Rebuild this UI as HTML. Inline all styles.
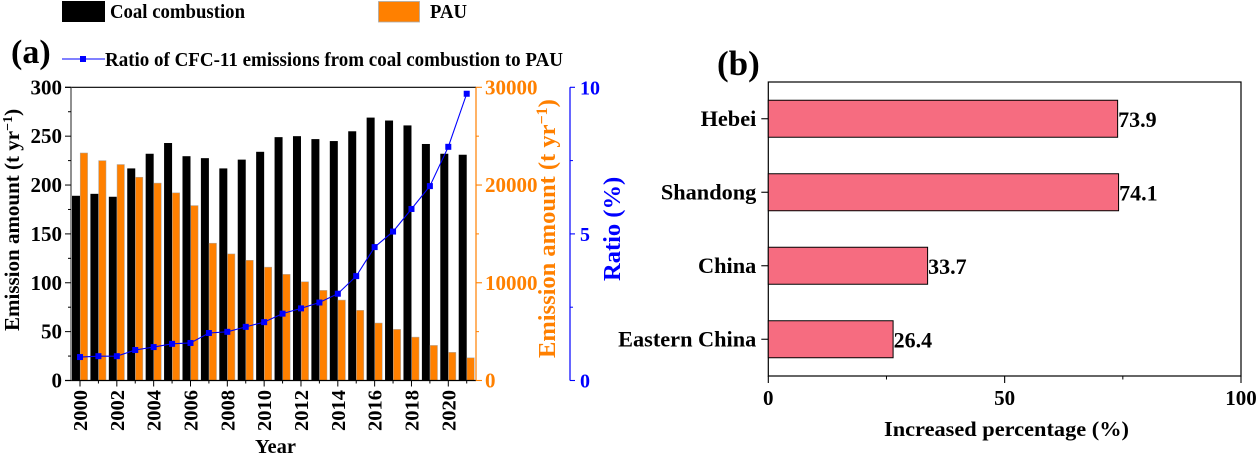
<!DOCTYPE html>
<html lang="en">
<head>
<meta charset="utf-8">
<title>CFC-11 emissions from coal combustion and PAU</title>
<style>
html,body{margin:0;padding:0;background:#fff;width:1258px;height:455px;overflow:hidden}
svg{display:block;font-family:"Liberation Serif",serif;font-weight:bold}
</style>
</head>
<body>
<svg id="chart" width="1258" height="455" viewBox="0 0 1258 455" xmlns="http://www.w3.org/2000/svg">
  <g>
    <rect x="62" y="1" width="43" height="21" fill="#000"/>
    <text x="110" y="18" font-size="20" textLength="135" lengthAdjust="spacingAndGlyphs">Coal combustion</text>
    <rect x="378.5" y="1.5" width="41" height="20.5" fill="#FF8000" stroke="#aaa" stroke-width="0.8"/>
    <text x="430" y="18" font-size="20" textLength="37" lengthAdjust="spacingAndGlyphs">PAU</text>
    <line x1="62" x2="105" y1="59" y2="59" stroke="#0000FF" stroke-width="1"/>
    <rect x="80" y="56" width="6" height="6" fill="#0000FF"/>
    <text x="105" y="66" font-size="20" textLength="458" lengthAdjust="spacingAndGlyphs">Ratio of CFC-11 emissions from coal combustion to PAU</text>
  </g>
  <text x="11" y="63" font-size="34">(a)</text>
  <text x="717" y="75" font-size="35">(b)</text>

  <g id="panelA"></g>
  <g id="panelB"></g>

  <text transform="translate(19,331) rotate(-90)" font-size="21" fill="#000">Emission amount (t yr<tspan font-size="14" dy="-7">−1</tspan><tspan dy="7">)</tspan></text>
  <text transform="translate(555,358) rotate(-90)" font-size="24.5" fill="#FF8000">Emission amount (t yr<tspan font-size="16" dy="-8">−1</tspan><tspan dy="8">)</tspan></text>
  <text transform="translate(620,281) rotate(-90)" font-size="24.5" fill="#0000FF">Ratio (%)</text>
  <text x="255" y="453" font-size="20.5">Year</text>
  <text x="884" y="436" font-size="21.5" textLength="245" lengthAdjust="spacingAndGlyphs">Increased percentage (%)</text>
</svg>

<script>
const years = [2000,2001,2002,2003,2004,2005,2006,2007,2008,2009,2010,2011,2012,2013,2014,2015,2016,2017,2018,2019,2020,2021];
const coalValues = [189,191,188,217,232,243,229.5,227.5,217,226,234,249,250,247,245,255,269,266,261,242,232,231];
const pauValues = [23280,22500,22100,20800,20200,19200,17900,14050,12950,12300,11600,10860,10100,9220,8230,7180,5880,5230,4440,3590,2880,2320];
const ratioValues = [0.8,0.83,0.83,1.04,1.14,1.25,1.28,1.62,1.66,1.83,1.99,2.28,2.46,2.66,2.96,3.56,4.55,5.08,5.85,6.63,7.97,9.78];
const coalTicks = [0,50,100,150,200,250,300];
const pauTicks = [0,10000,20000,30000];
const ratioTicks = [0,5,10];
const regions = ['Hebei','Shandong','China','Eastern China'];
const increases = [73.9,74.1,33.7,26.4];
const percentTicks = [0,50,100];

const NS = 'http://www.w3.org/2000/svg';
function make(parent, tag, attrs, content) {
  const el = document.createElementNS(NS, tag);
  for (const k in attrs) el.setAttribute(k, attrs[k]);
  if (content !== undefined) el.textContent = content;
  parent.appendChild(el);
  return el;
}

/* ---------- panel (a) ---------- */
const A = document.getElementById('panelA');
const aTop = 87.3, aBottom = 380.5, aLeft = 71, aRight = 476, ratioAxisX = 570;
const yearX = y => 80 + (y - 2000) * 18.415;
const coalY = v => aBottom - (v / 300) * (aBottom - aTop);
const pauY = v => aBottom - (v / 30000) * (aBottom - aTop);
const ratioY = v => aBottom - (v / 10) * (aBottom - aTop);

years.forEach((yr, i) => {
  const c = make(A, 'rect', {x: yearX(yr) - 8, y: coalY(coalValues[i]), width: 8, height: aBottom - coalY(coalValues[i]), fill: '#000'});
  
  
  const p = make(A, 'rect', {x: yearX(yr) + 0.2, y: pauY(pauValues[i]), width: 7.4, height: aBottom - pauY(pauValues[i]), fill: '#FF8000', stroke: '#a8a8a8', 'stroke-width': 0.5});
  
  
});

/* axes of (a) */
const frameTop = make(A, 'line', {x1: aLeft - 6, x2: aRight, y1: aTop, y2: aTop, stroke: '#000', 'stroke-width': 1.1});


const frameBottom = make(A, 'line', {x1: aLeft - 6, x2: aRight, y1: aBottom, y2: aBottom, stroke: '#000', 'stroke-width': 1.2});


const leftAxis = make(A, 'line', {x1: aLeft, x2: aLeft, y1: aTop, y2: aBottom, stroke: '#555', 'stroke-width': 1.3});


const orangeAxis = make(A, 'line', {x1: aRight, x2: aRight, y1: aTop, y2: aBottom, stroke: '#FF8000', 'stroke-width': 1.2});


const blueAxis = make(A, 'line', {x1: ratioAxisX, x2: ratioAxisX, y1: aTop, y2: aBottom, stroke: '#0000FF', 'stroke-width': 1.2});



/* coal axis ticks */
coalTicks.forEach((t, i) => {
  const y = coalY(t);
  make(A, 'line', {x1: aLeft - 6, x2: aLeft, y1: y, y2: y, stroke: '#000', 'stroke-width': 1});
  if (i < coalTicks.length - 1) {
    const my = coalY((t + coalTicks[i + 1]) / 2);
    make(A, 'line', {x1: aLeft - 3, x2: aLeft, y1: my, y2: my, stroke: '#000', 'stroke-width': 1});
  }
  const lab = make(A, 'text', {x: aLeft - 9, y: y + 7, 'text-anchor': 'end', 'font-size': 21, fill: '#000'}, String(t));
  
  
});

/* PAU axis ticks */
pauTicks.forEach((t, i) => {
  const y = pauY(t);
  make(A, 'line', {x1: aRight, x2: aRight + 6, y1: y, y2: y, stroke: '#FF8000', 'stroke-width': 1.1});
  if (i < pauTicks.length - 1) {
    const my = pauY((t + pauTicks[i + 1]) / 2);
    make(A, 'line', {x1: aRight, x2: aRight + 3, y1: my, y2: my, stroke: '#FF8000', 'stroke-width': 1});
  }
  const lab = make(A, 'text', {x: aRight + 9, y: y + 7, 'font-size': 21, fill: '#FF8000'}, String(t));
  
  
});

/* ratio axis ticks */
ratioTicks.forEach((t, i) => {
  const y = ratioY(t);
  make(A, 'line', {x1: ratioAxisX, x2: ratioAxisX + 5, y1: y, y2: y, stroke: '#0000FF', 'stroke-width': 1.1});
  if (i < ratioTicks.length - 1) {
    const my = ratioY((t + ratioTicks[i + 1]) / 2);
    make(A, 'line', {x1: ratioAxisX, x2: ratioAxisX + 3, y1: my, y2: my, stroke: '#0000FF', 'stroke-width': 1});
  }
  const lab = make(A, 'text', {x: ratioAxisX + 10, y: y + 7, 'font-size': 20, fill: '#0000FF'}, String(t));
  
  
});

/* year ticks */
years.forEach((yr, i) => {
  const x = yearX(yr);
  const major = yr % 2 === 0;
  make(A, 'line', {x1: x, x2: x, y1: aBottom, y2: aBottom + (major ? 6 : 3), stroke: '#000', 'stroke-width': 1});
  if (major && yr <= 2020) {
    const lab = make(A, 'text', {transform: 'translate(' + (x + 7) + ',390) rotate(-90)', 'text-anchor': 'end', 'font-size': 20.5, fill: '#000'}, String(yr));
    
    
  }
});

/* ratio series */
const ratioLine = make(A, 'polyline', {
  points: years.map((yr, i) => yearX(yr) + ',' + ratioY(ratioValues[i])).join(' '),
  fill: 'none', stroke: '#0000FF', 'stroke-width': 1.1
});


years.forEach((yr, i) => {
  const m = make(A, 'rect', {x: yearX(yr) - 3, y: ratioY(ratioValues[i]) - 3, width: 6, height: 6, fill: '#0000FF'});
  
  
});

/* ---------- panel (b) ---------- */
const B = document.getElementById('panelB');
const bLeft = 768.3, bRight = 1241, bTop = 82, bBottom = 376;
const pctX = v => bLeft + (v / 100) * (bRight - bLeft);
const rowH = (bBottom - bTop) / regions.length;
const regionY = i => bTop + rowH * (i + 0.5);
const barH = 37;

const bFrame = make(B, 'rect', {x: bLeft, y: bTop, width: bRight - bLeft, height: bBottom - bTop, fill: 'none', stroke: '#000', 'stroke-width': 1.2});



regions.forEach((r, i) => {
  const y = regionY(i);
  const bar = make(B, 'rect', {x: bLeft, y: y - barH / 2, width: pctX(increases[i]) - bLeft, height: barH, fill: '#F66C80', stroke: '#000', 'stroke-width': 1});
  
  
  make(B, 'line', {x1: bLeft - 7, x2: bLeft, y1: y, y2: y, stroke: '#000', 'stroke-width': 1.1});
  const lab = make(B, 'text', {x: bLeft - 12, y: y + 7, 'text-anchor': 'end', 'font-size': 22.3, fill: '#000'}, r);
  
  
  const val = make(B, 'text', {x: pctX(increases[i]) + 0.5, y: y + 8, 'font-size': 22, fill: '#000'}, increases[i].toFixed(1));
  
  
});

percentTicks.forEach((t, i) => {
  const x = pctX(t);
  make(B, 'line', {x1: x, x2: x, y1: bBottom, y2: bBottom + 7, stroke: '#000', 'stroke-width': 1.1});
  if (i < percentTicks.length - 1) {
    const mx = pctX((t + percentTicks[i + 1]) / 2);
    make(B, 'line', {x1: mx, x2: mx, y1: bBottom, y2: bBottom + 3.5, stroke: '#000', 'stroke-width': 1});
  }
  const lab = make(B, 'text', {x: x, y: 405, 'text-anchor': 'middle', 'font-size': 21, fill: '#000'}, String(t));
  
  
});
</script>
</body>
</html>
